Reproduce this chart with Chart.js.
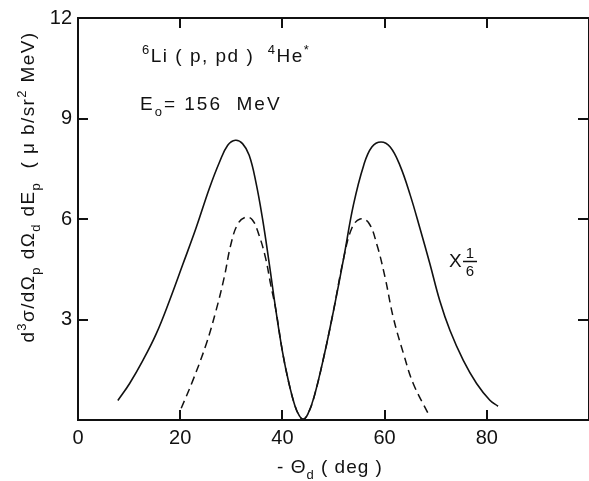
<!DOCTYPE html>
<html>
<head>
<meta charset="utf-8">
<script src="https://cdn.jsdelivr.net/npm/chart.js@4"></script>
<style>
  html, body { margin: 0; padding: 0; background: #fff; }
  canvas { display: block; }
</style>
</head>
<body>
<canvas id="c" width="589" height="481"></canvas>
<script>
// ---- data ----
const thetaSolid = [7.8, 10.1, 12.7, 15.3, 17.9, 20.5, 23.1, 25.7, 27.7, 29.3, 30.8, 32.2, 33.5, 34.8, 36.1, 37.4, 38.7, 40.0, 41.2, 42.4, 43.3, 44.1, 45.0, 46.2, 48.1, 50.0, 52.0, 53.9, 55.9, 57.5, 59.3, 61.1, 63.0, 65.0, 66.9, 68.9, 70.8, 72.8, 75.4, 78.0, 80.6, 82.2];
const sigmaSolid = [0.58, 1.09, 1.78, 2.57, 3.56, 4.64, 5.73, 6.91, 7.70, 8.20, 8.35, 8.25, 7.90, 7.11, 6.02, 4.70, 3.30, 2.05, 1.15, 0.45, 0.13, 0.02, 0.18, 0.69, 1.88, 3.26, 4.84, 6.42, 7.60, 8.15, 8.30, 8.15, 7.60, 6.72, 5.73, 4.64, 3.56, 2.67, 1.78, 1.09, 0.59, 0.41];
const thetaDashed = [20.2, 22.5, 25.1, 27.0, 28.6, 29.9, 31.2, 32.7, 34.1, 35.4, 36.7, 37.7, 38.7, 40.0, 41.2, 42.4, 43.3, 44.1, 45.0, 46.2, 48.1, 50.0, 52.0, 53.6, 55.2, 56.9, 58.5, 60.1, 61.7, 63.7, 65.6, 68.5];
const sigmaDashed = [0.35, 1.19, 2.27, 3.26, 4.25, 5.23, 5.83, 6.05, 5.98, 5.53, 4.84, 4.05, 3.30, 2.05, 1.15, 0.45, 0.13, 0.02, 0.18, 0.69, 1.88, 3.26, 4.84, 5.73, 6.00, 5.88, 5.23, 4.25, 3.06, 1.98, 1.09, 0.20];
const xTickValues = [0, 20, 40, 60, 80];
const yTickValues = [3, 6, 9, 12];
const innerTicksX = [20, 40, 60, 80];
const innerTicksY = [3, 6, 9];

const toPts = (xs, ys) => xs.map((x, i) => ({ x: x, y: ys[i] }));
const FONT = '"Liberation Sans", Arial, sans-serif';
const INK = '#111';

function drawRich(ctx, x, y, segs, size, align, spacing) {
  // segs: [text, mode] mode: 'n' normal, 'sup', 'sub'
  ctx.letterSpacing = (spacing || 0) + 'px';
  const parts = segs.map(([t, m]) => {
    const fs = m === 'n' ? size : Math.round(size * 0.7);
    ctx.font = fs + 'px ' + FONT;
    return { t, m, fs, w: ctx.measureText(t).width };
  });
  const total = parts.reduce((a, p) => a + p.w, 0);
  let cx = align === 'center' ? x - total / 2 : x;
  ctx.textBaseline = 'alphabetic';
  ctx.textAlign = 'left';
  for (const p of parts) {
    ctx.font = p.fs + 'px ' + FONT;
    let dy = 0;
    if (p.m === 'sup') dy = -size * 0.42;
    if (p.m === 'sub') dy = size * 0.3;
    ctx.fillText(p.t, cx, y + dy);
    cx += p.w;
  }
  ctx.letterSpacing = '0px';
}

const decor = {
  id: 'decor',
  afterDraw(chart) {
    const { ctx, chartArea: a, scales: { x, y } } = chart;
    ctx.save();
    ctx.strokeStyle = INK;
    ctx.fillStyle = INK;
    ctx.lineWidth = 2;
    ctx.lineCap = 'butt';
    // frame
    ctx.beginPath();
    ctx.moveTo(a.right, a.top); ctx.lineTo(a.left, a.top);
    ctx.lineTo(a.left, a.bottom); ctx.lineTo(a.right, a.bottom);
    ctx.lineTo(a.right, a.top);
    ctx.stroke();
    // inward ticks
    ctx.beginPath();
    for (const v of innerTicksX) {
      const px = Math.round(x.getPixelForValue(v));
      ctx.moveTo(px, a.bottom); ctx.lineTo(px, a.bottom - 10);
      ctx.moveTo(px, a.top); ctx.lineTo(px, a.top + 10);
    }
    for (const v of innerTicksY) {
      const py = Math.round(y.getPixelForValue(v));
      ctx.moveTo(a.left, py); ctx.lineTo(a.left + 10, py);
      ctx.moveTo(a.right, py); ctx.lineTo(a.right - 11, py);
    }
    ctx.stroke();

    // annotations
    drawRich(ctx, 142, 62, [['6', 'sup'], ['Li ( p, pd )  ', 'n'], ['4', 'sup'], ['He', 'n'], ['*', 'sup']], 19, 'left', 1.5);
    drawRich(ctx, 140, 110, [['E', 'n'], ['o', 'sub'], ['= 156  MeV', 'n']], 19, 'left', 2);
    // X 1/6
    ctx.font = '19px ' + FONT;
    ctx.textAlign = 'left';
    ctx.textBaseline = 'alphabetic';
    ctx.fillText('X', 449, 267);
    ctx.font = '15px ' + FONT;
    ctx.textAlign = 'center';
    ctx.fillText('1', 470, 258);
    ctx.fillText('6', 470, 276);
    ctx.lineWidth = 1.5;
    ctx.beginPath(); ctx.moveTo(463, 261.5); ctx.lineTo(477, 261.5); ctx.stroke();

    // x title
    drawRich(ctx, 330, 473, [['- \u0398', 'n'], ['d', 'sub'], [' ( deg )', 'n']], 19, 'center', 1);

    // y title (rotated)
    ctx.save();
    ctx.translate(34, 187);
    ctx.rotate(-Math.PI / 2);
    drawRich(ctx, 0, 0, [['d', 'n'], ['3', 'sup'], ['\u03c3/d\u03a9', 'n'], ['p', 'sub'], [' d\u03a9', 'n'], ['d', 'sub'], [' dE', 'n'], ['p', 'sub'], ['  ( \u03bc b/sr', 'n'], ['2', 'sup'], [' MeV)', 'n']], 19, 'center', 1.4);
    ctx.restore();
    ctx.restore();
  }
};

new Chart(document.getElementById('c'), {
  type: 'scatter',
  data: {
    datasets: [
      {
        label: 'solid',
        data: toPts(thetaSolid, sigmaSolid),
        showLine: true,
        borderColor: INK,
        borderWidth: 1.6,
        pointRadius: 0,
        tension: 0.4,
        fill: false
      },
      {
        label: 'dashed',
        data: toPts(thetaDashed, sigmaDashed),
        showLine: true,
        borderColor: INK,
        borderWidth: 1.5,
        borderDash: [8, 5],
        pointRadius: 0,
        tension: 0.4,
        fill: false
      }
    ]
  },
  options: {
    responsive: false,
    animation: false,
    devicePixelRatio: 1,
    layout: { padding: { top: 15, right: -2, left: 0, bottom: 0 } },
    plugins: { legend: { display: false }, tooltip: { enabled: false } },
    scales: {
      x: {
        type: 'linear', min: 0, max: 100,
        afterBuildTicks: s => { s.ticks = xTickValues.map(v => ({ value: v })); },
        afterFit: s => { s.height = 61; },
        grid: { display: false, drawTicks: false },
        border: { display: false },
        ticks: { color: INK, font: { family: FONT, size: 20 }, padding: 6, maxRotation: 0, autoSkip: false }
      },
      y: {
        type: 'linear', min: 0, max: 12,
        afterBuildTicks: s => { s.ticks = yTickValues.map(v => ({ value: v })); },
        afterFit: s => { s.width = 78; },
        grid: { display: false, drawTicks: false },
        border: { display: false },
        ticks: { color: INK, font: { family: FONT, size: 20 }, padding: 6, autoSkip: false }
      }
    }
  },
  plugins: [decor]
});
</script>
</body>
</html>
